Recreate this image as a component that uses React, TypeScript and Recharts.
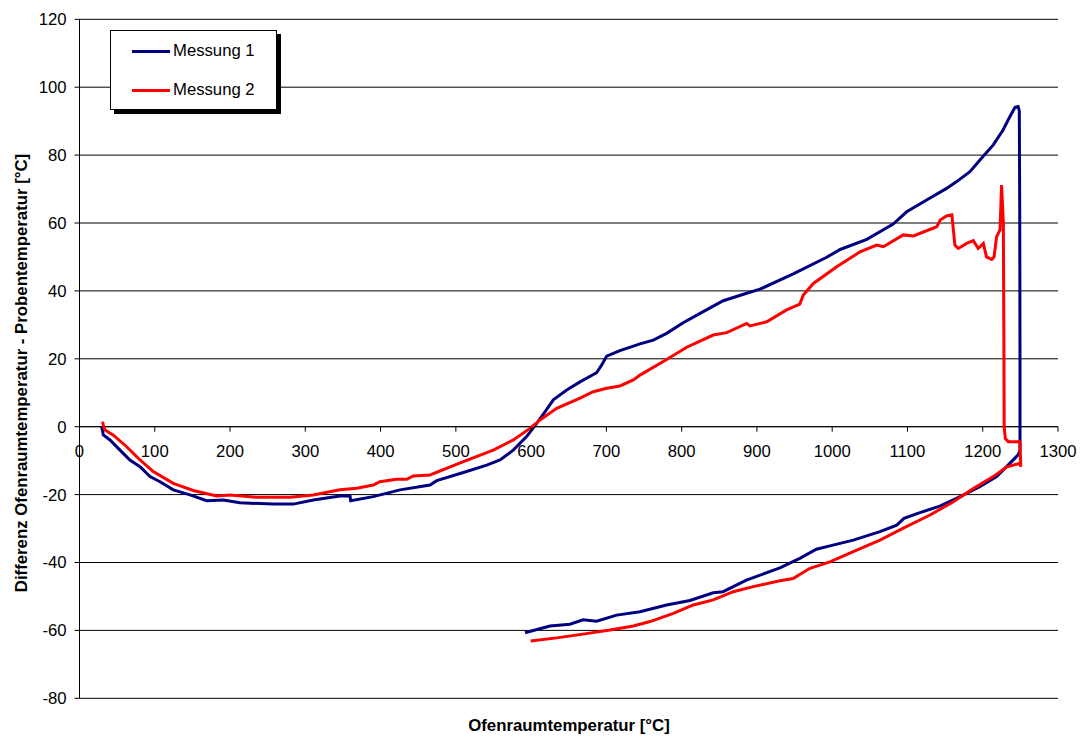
import React from 'react';
import {
  LineChart, Line, XAxis, YAxis, CartesianGrid, ReferenceLine, Legend, Label,
} from 'recharts';

// Ofenraumtemperatur [°C] / Differenz [°C] – Messung 1 (Aufheizen, dann Abkühlen)
const m1Temp = [
  29.5, 31.6, 40.5, 53.8, 67, 80.4, 93.7, 107, 124.6, 146.8, 169, 191, 213, 257.5, 284,
  310.6, 346, 359.4, 360.3, 390.3, 425.8, 465.7, 474.6, 510, 541, 558.7, 576.3, 594,
  607.4, 618.4, 629.5, 647.3, 665, 687, 693.8, 700.4, 718, 744.7, 762.3, 780, 802, 828.7,
  855.3, 886.4, 904, 948.3, 992.7, 1010.6, 1046, 1081, 1099, 1125.5, 1152, 1165.4, 1183,
  1196.6, 1214, 1227, 1236, 1242.9, 1247, 1248.6, 1249.2, 1249.5, 1249.5, 1249.5,
  1247, 1236, 1218.5, 1196, 1170, 1143, 1116.6, 1095.4, 1085.7, 1063.5, 1028, 997, 979,
  957, 930.6, 886, 855, 842, 811, 780, 744.7, 713.7, 687, 669, 651.6, 625, 591.9,
];
const m1Diff = [
  0, -2.4, -3.9, -6.9, -9.8, -11.8, -14.7, -16.2, -18.6, -20.1, -21.8, -21.6, -22.4, -22.8, -22.8,
  -21.6, -20.4, -20.4, -21.8, -20.6, -18.6, -17.2, -15.9, -13.5, -11.3, -9.8, -6.9, -2.9,
  1, 4.4, 7.9, 10.8, 13.2, 15.9, 18.2, 20.8, 22.4, 24.4, 25.5, 27.5, 30.6, 33.9,
  37.1, 39.3, 40.5, 45, 49.9, 52.2, 55.2, 59.7, 63.3, 66.8, 70.2, 72.2, 75.1,
  78.6, 83, 87.4, 91.3, 94.1, 94.3, 93, 60, 20, 0, -7,
  -8.3, -10.8, -14.7, -17.7, -20.6, -23.4, -25.3, -27, -29, -30.9, -33.4, -35.1, -36.1,
  -38.8, -41.6, -45.2, -48.6, -48.9, -51.2, -52.5, -54.5, -55.5, -57.3, -56.9, -58.2, -58.7, -60.7,
];

// Messung 2
const m2Temp = [
  30.8, 31.5, 33.9, 45, 62.7, 80.4, 98, 124.6, 151.2, 182.3, 200, 235.4, 279.7, 310.6,
  346, 368.3, 390.3, 399, 421.4, 434.7, 443.5, 465.7, 510, 549.7, 576.3, 598.5, 611.8,
  634, 665, 682.6, 700.4, 718, 735.8, 744.7, 780, 806.7, 842, 860, 886.4, 890.8, 913,
  939.5, 957, 961.6, 975, 1006, 1037, 1059, 1068, 1094.5, 1108, 1139, 1143.5, 1152, 1159,
  1163, 1167.5, 1178.7, 1187.5, 1194, 1200.8, 1205, 1212, 1215, 1218.5, 1223, 1225,
  1227.4, 1228, 1228.5, 1230, 1234, 1249.5, 1250, 1250.5, 1249.5,
  1232, 1214, 1187.5, 1161, 1130, 1094.5, 1063.5, 1028, 997, 970.5, 948, 930.6, 895,
  868.6, 842, 815.5, 789, 758, 735.8, 704.8, 669, 634, 599.4,
];
const m2Diff = [
  1.5, 0.5, -1, -2.5, -5.9, -9.8, -13.2, -16.7, -18.8, -20.4, -20.1, -20.8, -20.8, -20.1,
  -18.6, -18.1, -17.2, -16.2, -15.5, -15.5, -14.5, -14.2, -10.3, -6.9, -3.9, -0.5, 2,
  5.4, 8.4, 10.3, 11.3, 12, 13.8, 15.2, 19.8, 23.4, 27, 27.7, 30.4, 29.7, 30.9,
  34.4, 36.1, 38.8, 42.2, 47.1, 51.5, 53.5, 53, 56.5, 56.2, 58.9, 60.9, 62.1, 62.4,
  53.5, 52.5, 54, 54.8, 52.5, 54, 50, 49.3, 50, 56, 58, 71.2,
  60, 30, 0, -3.5, -4.4, -4.4, -8, -11.8, -10.8,
  -11.8, -14.7, -18.2, -22.1, -26, -29.9, -33.4, -36.8, -39.8, -41.7, -44.7, -45.4, -47.1,
  -48.6, -51, -52.5, -55, -57.4, -58.7, -59.9, -61.1, -62.2, -63.1,
];

const xTicks = [0, 100, 200, 300, 400, 500, 600, 700, 800, 900, 1000, 1100, 1200, 1300];
const yTicks = [-80, -60, -40, -20, 0, 20, 40, 60, 80, 100, 120];

const series = [
  { name: 'Messung 1', color: '#000080', data: m1Temp.map((t, i) => ({ t, d: m1Diff[i] })) },
  { name: 'Messung 2', color: '#ff0000', data: m2Temp.map((t, i) => ({ t, d: m2Diff[i] })) },
];

const W = 1080;
const H = 737;
const TOP = 19.3;
const BOTTOM = 38.7;
const LEFT = 79.5;
const RIGHT = 22;
const Y_AXIS_W = 60;
const X_AXIS_H = 30;
const FONT = 'Arial, "Liberation Sans", sans-serif';
const FS = 16.7;

// the x axis crosses at 0 °C difference
const plotH = H - TOP - BOTTOM;
const ZERO_Y = TOP + plotH * (120 / 200);

function XTick(props: any) {
  const { x, payload } = props;
  return (
    <g>
      <line x1={x} x2={x} y1={ZERO_Y} y2={ZERO_Y + 5} stroke="#000" />
      <text x={x} y={ZERO_Y + 30} textAnchor="middle" fontSize={FS} fontFamily={FONT} fill="#000">
        {payload.value}
      </text>
    </g>
  );
}

function LegendBox() {
  return (
    <div
      style={{
        width: 165, height: 78, background: '#fff', border: '1px solid #000',
        boxShadow: '4px 4px 0 #000', fontFamily: FONT, fontSize: FS, color: '#000',
        position: 'relative',
      }}
    >
      {series.map((s, i) => (
        <div key={s.name} style={{ position: 'absolute', left: 21, top: 9 + i * 39, display: 'flex', alignItems: 'center', height: 22 }}>
          <div style={{ width: 38, height: 3, background: s.color, marginRight: 3 }} />
          <span>{s.name}</span>
        </div>
      ))}
    </div>
  );
}

export default function App() {
  return (
    <div style={{ position: 'absolute', left: 0, top: 0, width: W, height: H, background: '#fff' }}>
      <LineChart
        width={W}
        height={H}
        margin={{ top: TOP, right: RIGHT, bottom: BOTTOM - X_AXIS_H, left: LEFT - Y_AXIS_W }}
      >
        <CartesianGrid vertical={false} stroke="#000" strokeWidth={1} />
        <XAxis
          type="number"
          dataKey="t"
          domain={[0, 1300]}
          ticks={xTicks}
          height={X_AXIS_H}
          axisLine={false}
          tickLine={false}
          tick={(p: any) => <XTick {...p} />}
          interval={0}
          allowDataOverflow
        >
          <Label
            content={() => (
              <text x={569} y={731} textAnchor="middle" fontSize={16.8} fontWeight="bold" fontFamily={FONT} fill="#000">
                Ofenraumtemperatur [°C]
              </text>
            )}
          />
        </XAxis>
        <YAxis
          type="number"
          domain={[-80, 120]}
          ticks={yTicks}
          width={Y_AXIS_W}
          axisLine={{ stroke: '#000' }}
          tickLine={{ stroke: '#000' }}
          tickSize={5}
          tickMargin={8}
          tick={{ fill: '#000', fontSize: FS, fontFamily: FONT }}
          interval={0}
          allowDataOverflow
        >
          <Label
            content={() => (
              <text
                transform="translate(27, 373) rotate(-90)"
                textAnchor="middle"
                fontSize={16.8}
                fontWeight="bold"
                fontFamily={FONT}
                fill="#000"
              >
                Differenz Ofenraumtemperatur - Probentemperatur [°C]
              </text>
            )}
          />
        </YAxis>
        <ReferenceLine y={0} stroke="#000" strokeWidth={1} />
        {series.map((s) => (
          <Line
            key={s.name}
            name={s.name}
            data={s.data}
            dataKey="d"
            type="linear"
            stroke={s.color}
            strokeWidth={3}
            dot={false}
            activeDot={false}
            isAnimationActive={false}
          />
        ))}
        <Legend
          layout="vertical"
          align="center"
          verticalAlign="middle"
          content={() => <LegendBox />}
          wrapperStyle={{ left: 110, top: 30, width: 167, height: 80 }}
        />
      </LineChart>
    </div>
  );
}
